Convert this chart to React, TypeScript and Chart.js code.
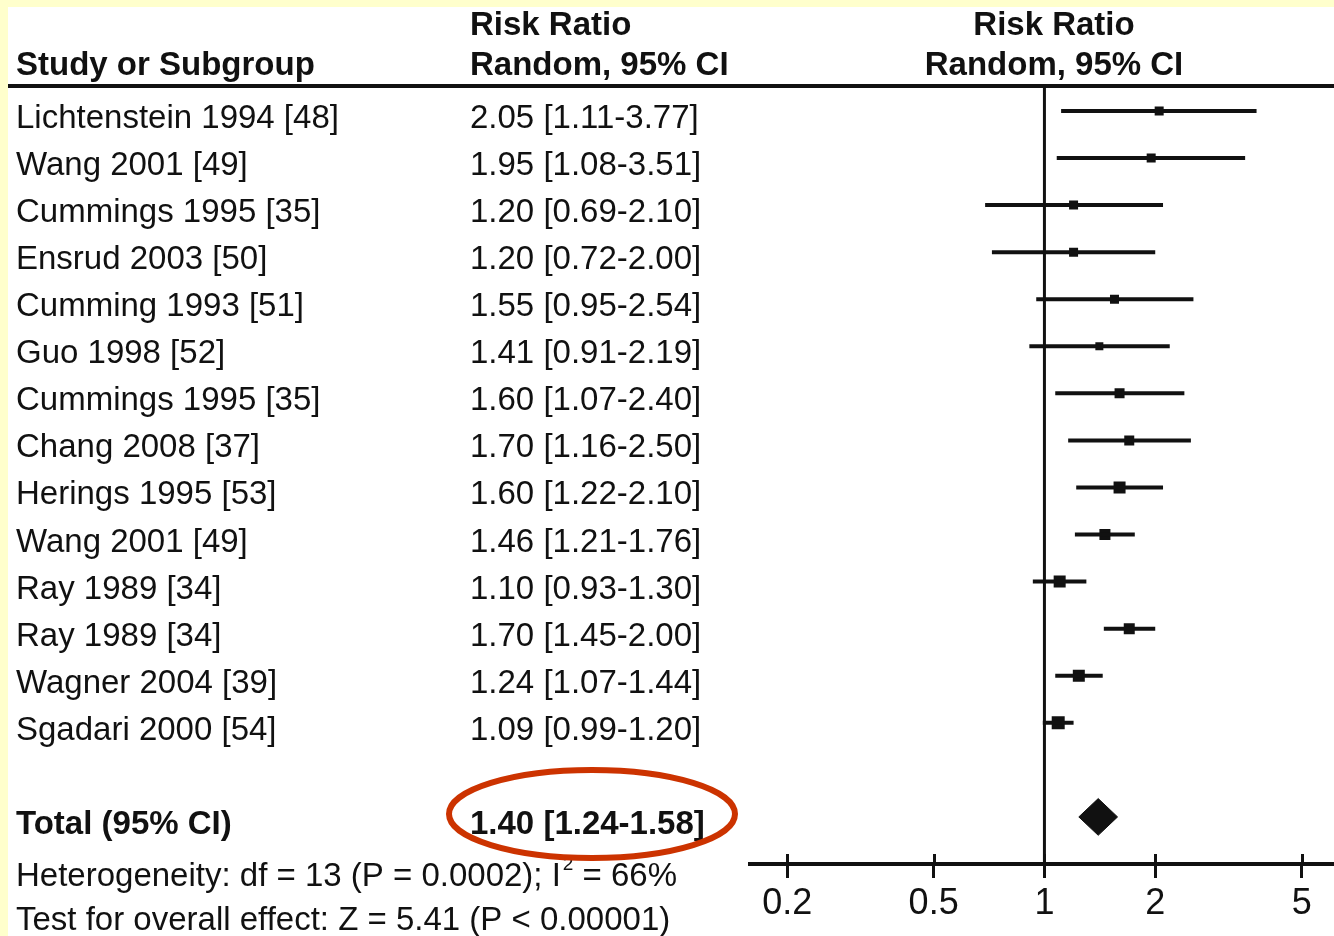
import React, { useEffect, useRef } from "react";
import { Chart, registerables } from "chart.js";

Chart.register(...registerables);

// ---------- data ----------
const studies = [
  "Lichtenstein 1994 [48]",
  "Wang 2001 [49]",
  "Cummings 1995 [35]",
  "Ensrud 2003 [50]",
  "Cumming 1993 [51]",
  "Guo 1998 [52]",
  "Cummings 1995 [35]",
  "Chang 2008 [37]",
  "Herings 1995 [53]",
  "Wang 2001 [49]",
  "Ray 1989 [34]",
  "Ray 1989 [34]",
  "Wagner 2004 [39]",
  "Sgadari 2000 [54]",
];
const riskRatio = [2.05, 1.95, 1.2, 1.2, 1.55, 1.41, 1.6, 1.7, 1.6, 1.46, 1.1, 1.7, 1.24, 1.09];
const ciLow = [1.11, 1.08, 0.69, 0.72, 0.95, 0.91, 1.07, 1.16, 1.22, 1.21, 0.93, 1.45, 1.07, 0.99];
const ciHigh = [3.77, 3.51, 2.1, 2.0, 2.54, 2.19, 2.4, 2.5, 2.1, 1.76, 1.3, 2.0, 1.44, 1.2];
const boxSide = [9, 9, 9, 9, 9, 8, 10, 10, 12, 11, 12, 11, 12, 13];

const totalLabel = "Total (95% CI)";
const totalRR = 1.4;
const totalLow = 1.24;
const totalHigh = 1.58;
const totalRow = 15;

const tickValues = [0.2, 0.5, 1, 2, 5];
const headerLeft = "Study or Subgroup";
const headerCol = ["Risk Ratio", "Random, 95% CI"];
const hetPrefix = "Heterogeneity: df = 13 (P = 0.0002); I";
const hetSup = "2";
const hetSuffix = " = 66%";
const overallEffect = "Test for overall effect: Z = 5.41 (P < 0.00001)";

// ---------- styles ----------
const FONT = "'Liberation Sans', Arial, Helvetica, sans-serif";
const INK = "#111111";
const fmt = (v: number) => v.toFixed(2);

export default function App() {
  const ref = useRef<HTMLCanvasElement | null>(null);

  useEffect(() => {
    document.body.style.margin = "0";
    const canvas = ref.current;
    if (!canvas) return;

    const ciDatasets = studies.map((_, i) => ({
      type: "line" as const,
      data: [
        { x: ciLow[i], y: i },
        { x: ciHigh[i], y: i },
      ],
      borderColor: INK,
      borderWidth: 4,
      borderCapStyle: "butt" as const,
      pointRadius: 0,
      fill: false,
    }));

    const diamondHalf = 0.39;

    const forestPlugin = {
      id: "forestText",
      beforeDraw(chart: any) {
        const { ctx, width, height } = chart;
        ctx.save();
        ctx.fillStyle = "#FFFFCC";
        ctx.fillRect(0, 0, width, height);
        ctx.fillStyle = "#FFFFFF";
        ctx.fillRect(8, 7, width - 8, height - 7);
        ctx.restore();
      },
      afterDraw(chart: any) {
        const { ctx } = chart;
        const xs = chart.scales.x;
        const ys = chart.scales.y;
        const axisY = chart.chartArea.bottom;
        ctx.save();
        // header rule
        ctx.strokeStyle = INK;
        ctx.lineWidth = 4;
        ctx.beginPath();
        ctx.moveTo(8, 86);
        ctx.lineTo(chart.width, 86);
        ctx.stroke();
        // upper halves of tick marks
        ctx.lineWidth = 3;
        tickValues.forEach((v) => {
          const px = Math.round(xs.getPixelForValue(v)) + 0.5;
          ctx.beginPath();
          ctx.moveTo(px, axisY - 10);
          ctx.lineTo(px, axisY);
          ctx.stroke();
        });

        ctx.fillStyle = INK;
        ctx.textBaseline = "alphabetic";
        // headers
        ctx.font = `bold 33px ${FONT}`;
        ctx.textAlign = "left";
        ctx.fillText(headerLeft, 16, 75);
        ctx.fillText(headerCol[0], 470, 35);
        ctx.fillText(headerCol[1], 470, 75);
        ctx.textAlign = "center";
        ctx.fillText(headerCol[0], 1054, 35);
        ctx.fillText(headerCol[1], 1054, 75);

        // study rows
        ctx.textAlign = "left";
        ctx.font = `33px ${FONT}`;
        studies.forEach((s, i) => {
          const y = ys.getPixelForValue(i) + 17;
          ctx.fillText(s, 16, y);
          ctx.fillText(`${fmt(riskRatio[i])} [${fmt(ciLow[i])}-${fmt(ciHigh[i])}]`, 470, y);
        });

        // total row
        const ty = ys.getPixelForValue(totalRow) + 17;
        ctx.font = `bold 33px ${FONT}`;
        ctx.fillText(totalLabel, 16, ty);
        ctx.fillText(`${fmt(totalRR)} [${fmt(totalLow)}-${fmt(totalHigh)}]`, 470, ty);

        // heterogeneity / overall
        ctx.font = `33px ${FONT}`;
        const hy = 886;
        ctx.fillText(hetPrefix, 16, hy);
        let wx = 16 + ctx.measureText(hetPrefix).width + 2;
        ctx.font = `19px ${FONT}`;
        ctx.fillText(hetSup, wx, hy - 16);
        wx += ctx.measureText(hetSup).width;
        ctx.font = `33px ${FONT}`;
        ctx.fillText(hetSuffix, wx, hy);
        ctx.fillText(overallEffect, 16, 930);

        // red highlight ellipse
        ctx.strokeStyle = "#CC3300";
        ctx.lineWidth = 6;
        ctx.beginPath();
        ctx.ellipse(592, 814, 143, 44, 0, 0, Math.PI * 2);
        ctx.stroke();
        ctx.restore();
      },
    };

    const chart = new Chart(canvas, {
      type: "scatter",
      data: {
        datasets: [
          {
            type: "line",
            data: [
              { x: 1, y: -0.5 },
              { x: 1, y: 16 },
            ],
            borderColor: INK,
            borderWidth: 3,
            pointRadius: 0,
            fill: false,
          },
          ...ciDatasets,
          {
            type: "scatter",
            data: riskRatio.map((v, i) => ({ x: v, y: i })),
            pointStyle: "rect",
            pointRadius: boxSide.map((s) => s / Math.SQRT2),
            backgroundColor: INK,
            borderColor: INK,
            borderWidth: 0,
          },
          {
            type: "line",
            data: [
              { x: totalLow, y: totalRow },
              { x: totalRR, y: totalRow - diamondHalf },
              { x: totalHigh, y: totalRow },
              { x: totalRR, y: totalRow + diamondHalf },
              { x: totalLow, y: totalRow },
            ],
            borderColor: INK,
            backgroundColor: INK,
            borderWidth: 1,
            pointRadius: 0,
            fill: "shape",
          },
        ] as any,
      },
      options: {
        animation: false,
        responsive: false,
        devicePixelRatio: 1,
        layout: { autoPadding: false, padding: { left: 750, right: 0, top: 87.4, bottom: 6.8 } },
        plugins: {
          legend: { display: false },
          tooltip: { enabled: false },
          title: { display: false },
        },
        scales: {
          x: {
            type: "logarithmic",
            min: 0.1585,
            max: 6.12,
            afterBuildTicks: (scale: any) => {
              scale.ticks = tickValues.map((v) => ({ value: v }));
            },
            ticks: {
              callback: (v: any) => String(v),
              autoSkip: false,
              maxRotation: 0,
              padding: 4,
              color: INK,
              font: { family: FONT, size: 36 },
            },
            grid: {
              display: true,
              drawOnChartArea: false,
              drawTicks: true,
              tickLength: 14,
              tickWidth: 3,
              tickColor: INK,
              color: INK,
            },
            border: { display: true, color: INK, width: 4 },
          },
          y: {
            type: "linear",
            reverse: true,
            min: -0.5,
            max: 16,
            display: false,
          },
        },
      } as any,
      plugins: [forestPlugin],
    });

    return () => chart.destroy();
  }, []);

  return (
    <div style={{ width: 1334, height: 936 }}>
      <canvas ref={ref} width={1334} height={936} style={{ display: "block" }} />
    </div>
  );
}
